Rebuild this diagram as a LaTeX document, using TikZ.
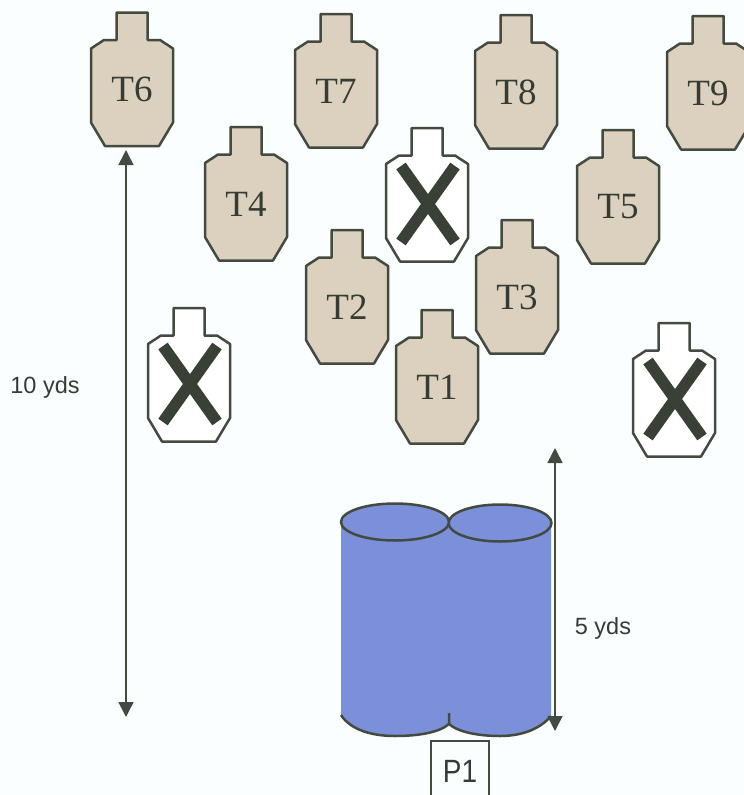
\documentclass[tikz,border=0pt]{standalone}
\usepackage{fontspec}
\setmainfont{Liberation Serif}
\setsansfont{Liberation Sans}
\usetikzlibrary{arrows.meta}
\definecolor{bgc}{HTML}{FBFEFE}
\definecolor{ink}{HTML}{434B40}
\definecolor{tan}{HTML}{DCD1BE}
\definecolor{drum}{HTML}{7C8FD9}
\tikzset{
  outline/.style={draw=ink,line width=2.5pt,line join=round},
  tlabel/.style={font=\fontsize{37}{40}\selectfont,text=ink!80!black,inner sep=0pt},
  sidelabel/.style={font=\sffamily\fontsize{23.5}{26}\selectfont,text=ink!80!black,inner sep=0pt},
  dim/.style={draw=ink,line width=1.5pt,{Triangle[length=15pt,width=15pt]}-{Triangle[length=15pt,width=15pt]}},
  crossbar/.style={draw=ink!85!black,line width=11.5pt},
}
\newcommand{\silhouette}[3]{% x, top y, fill
  \path[outline,fill=#3,shift={(#1,#2)}]
    (-15.5,0) -- (15.5,0) -- (15.5,27.5) -- (28,27.5) -- (41,36) -- (41,110)
    -- (27,133.5) -- (-27,133.5) -- (-41,110) -- (-41,36) -- (-28,27.5)
    -- (-15.5,27.5) -- cycle;}
\newcommand{\shooter}[4]{% name, x, top y, text
  \silhouette{#2}{#3}{tan}
  \node[tlabel] (#1) at (#2,#3+77) {#4};}
\newcommand{\noshoot}[3]{% name, x, top y
  \silhouette{#2}{#3}{white}
  \coordinate (#1) at (#2+1,#3+76);
  \draw[crossbar] ([shift={(-27,-38)}]#1) -- ([shift={(27,38)}]#1);
  \draw[crossbar] ([shift={(-27,38)}]#1) -- ([shift={(27,-38)}]#1);}
\begin{document}
\begin{tikzpicture}[x=1pt,y=-1pt]
\path[fill=bgc] (0,0) rectangle (744,795);
\useasboundingbox (0,0) rectangle (744,795);
\shooter{T6}{132}{12.5}{T6}
\shooter{T7}{336}{14}{T7}
\shooter{T8}{516}{15}{T8}
\shooter{T9}{708}{16}{T9}
\shooter{T4}{246}{127}{T4}
\noshoot{NS1}{427}{128}
\shooter{T5}{618}{130}{T5}
\shooter{T2}{347}{230}{T2}
\shooter{T3}{517}{220}{T3}
\shooter{T1}{437}{310}{T1}
\noshoot{NS2}{189}{308}
\noshoot{NS3}{674}{323}
% drums
\fill[drum] (341,522) -- (551,523) -- (551,716)
  .. controls (540,729) and (522,736) .. (500,736)
  .. controls (478,736) and (458,732) .. (449,724)
  .. controls (440,732) and (420,736) .. (395,736)
  .. controls (370,736) and (350,729) .. (341,716) -- cycle;
\draw[outline,fill=drum] (500,523) ellipse [x radius=51.5,y radius=18.5];
\draw[outline,fill=drum] (395,522) ellipse [x radius=54,y radius=18.5];
\draw[outline] (341,715) .. controls (350,729) and (370,736) .. (395,736)
  .. controls (420,736) and (440,732) .. (449,724) -- (449,713);
\draw[outline] (449,724) .. controls (458,732) and (478,736) .. (500,736)
  .. controls (522,736) and (540,729) .. (551,716);
% dimensions
\coordinate (A1) at (126,150);
\coordinate (A2) at (126,717);
\coordinate (B1) at (555,448);
\coordinate (B2) at (555,731);
\draw[dim] (A1) -- (A2);
\draw[dim] (B1) -- (B2);
\node[sidelabel,yscale=1.0] (L10) at (45,387) {10 yds};
\node[sidelabel] (L5) at (603,628) {5 yds};
% P1
\path[draw=ink,line width=1.5pt,fill=bgc] (431,741) -- (489,741) -- (489,800) -- (431,800) -- cycle;
\node[inner sep=0pt,yscale=1.15,font=\sffamily\fontsize{28}{30}\selectfont,text=ink!80!black] (P1) at (460,771) {P1};
\end{tikzpicture}
\end{document}
